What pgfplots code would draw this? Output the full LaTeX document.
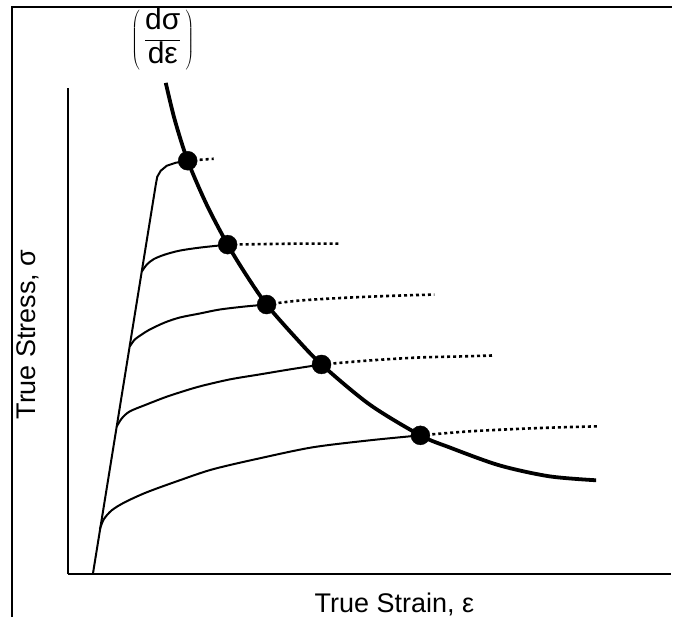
\documentclass[border=0pt]{standalone}
\usepackage{fontspec}
\setmainfont{Liberation Sans}
\usepackage{pgfplots}
\pgfplotsset{compat=1.18}
\begin{document}
\begin{tikzpicture}
\begin{axis}[
  x=1pt, y=1pt,
  xmin=68, xmax=672, ymin=43, ymax=530,
  axis x line=bottom, axis y line=left,
  axis line style={-, line width=2pt, black},
  ticks=none,
  clip=false,
  thin curve/.style={line width=2pt, black},
  dot curve/.style={line width=2.6pt, black, dash pattern=on 3pt off 3pt},
]
% bounding box and partial frame
\path (axis cs:0,0) rectangle (axis cs:673,618);
\draw[line width=2pt] (axis cs:12,0) -- (axis cs:12,611) -- (axis cs:673,611);

% elastic line + top curve
\addplot[thin curve] coordinates {(93,43) (156,433) (157.5,441) (161,447) (167,452) (176,455) (188,457)};
% curve 4
\addplot[thin curve, smooth] coordinates {(142,346) (147,353) (154,358.5) (165,363) (180,367) (200,370) (228,373)};
% curve 3
\addplot[thin curve, smooth] coordinates {(130,271) (135,278) (142,283) (150,288) (165,295) (180,300) (200,304) (220,308) (245,311) (267,313)};
% curve 2
\addplot[thin curve, smooth] coordinates {(117,191) (122,199) (130,206) (147,213) (165,220) (180,225) (200,231) (230,238) (260,243) (290,248) (322,253)};
% curve 1
\addplot[thin curve, smooth] coordinates {(100,88) (104,98) (112,107) (125,115) (147,125) (180,137) (213,148) (260,159) (313,170) (370,177) (421,182)};

% dotted continuations
\addplot[dot curve] coordinates {(188,457) (214,459)};
\addplot[dot curve, smooth] coordinates {(228,373) (260,373.5) (300,374) (340,374)};
\addplot[dot curve, smooth] coordinates {(267,313) (300,317) (350,320) (400,322) (435,323)};
\addplot[dot curve, smooth] coordinates {(322,253) (370,257) (420,260) (460,261) (494,262)};
\addplot[dot curve, smooth] coordinates {(421,182) (470,186) (520,188.5) (560,190) (598,191)};

% d sigma / d epsilon curve
\addplot[line width=3.8pt, black, smooth] coordinates {(166,535) (175,498) (188,457) (207,413) (228,373) (247,342) (267,313) (295,281) (322,253) (370,213) (421,182) (450,170) (500,152) (550,141) (597,137)};

% dots
\addplot[only marks, mark=*, mark size=9.5pt, black] coordinates {(188,457) (228,373) (267,313) (322,253) (421,182)};

% labels
\node[font=\fontsize{27}{32}\selectfont, anchor=base] at (axis cs:395,5) {True Strain, ε};
\node[font=\fontsize{27}{32}\selectfont, rotate=90, anchor=base] at (axis cs:36,283) {True Stress, σ};
\node[font=\fontsize{30}{36}\selectfont] at (axis cs:163,579) {$\displaystyle\left(\,\frac{\mbox{dσ}}{\mbox{dε}}\,\right)$};
\end{axis}
\end{tikzpicture}
\end{document}
